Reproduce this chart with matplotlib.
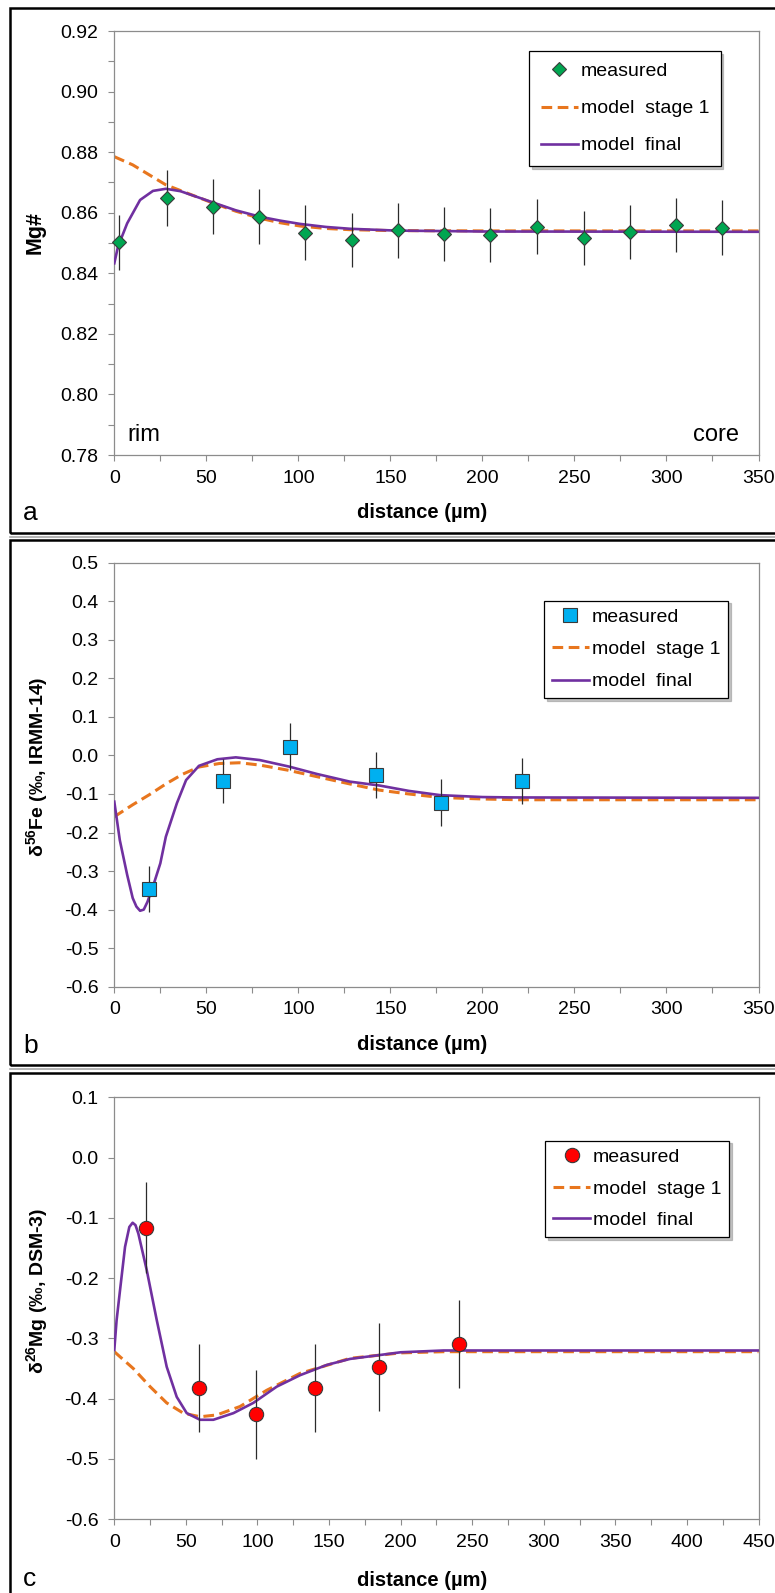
import matplotlib
matplotlib.use("Agg")
import matplotlib.pyplot as plt
from matplotlib.patches import Rectangle
from matplotlib.lines import Line2D
from matplotlib.ticker import MultipleLocator, FormatStrFormatter

plt.rcParams['font.family'] = ['Liberation Sans', 'DejaVu Sans']
plt.rcParams['mathtext.fontset'] = 'custom'
plt.rcParams['mathtext.rm'] = 'Liberation Sans'
plt.rcParams['mathtext.bf'] = 'Liberation Sans:bold'
plt.rcParams['axes.unicode_minus'] = False

# ---- panel a: Mg# ----
mg_dist = [2.6, 28.4, 53.4, 78.7, 103.5, 129.2, 154, 179, 204, 229.4, 255, 280, 305, 330]
mg_val = [0.8502, 0.8649, 0.8620, 0.8587, 0.8534, 0.8510, 0.8542, 0.8530, 0.8527,
          0.8554, 0.8516, 0.8537, 0.8560, 0.8551]
mg_err = [0.009, 0.0092, 0.009, 0.009, 0.009, 0.009, 0.009, 0.009, 0.009,
          0.009, 0.009, 0.009, 0.009, 0.009]
mg_s1_x = [0, 10, 19, 28, 39, 54, 66, 79, 90, 101, 115, 128, 150, 200, 350]
mg_s1_y = [0.8785, 0.8758, 0.8725, 0.8692, 0.8666, 0.8631, 0.8605, 0.8582, 0.8567,
           0.8556, 0.8548, 0.8544, 0.8541, 0.8540, 0.8540]
mg_fin_x = [0, 2, 7, 14, 21, 28, 36, 45, 54, 66, 79, 90, 101, 115, 128, 153, 200, 350]
mg_fin_y = [0.8433, 0.8488, 0.8565, 0.8642, 0.8672, 0.8679, 0.8671, 0.8652, 0.8633,
            0.8608, 0.8587, 0.8574, 0.8563, 0.8553, 0.8547, 0.8541, 0.8538, 0.8537]

# ---- panel b: d56Fe ----
fe_dist = [18.9, 58.9, 95.3, 142.0, 177.4, 221.4]
fe_val = [-0.347, -0.066, 0.023, -0.051, -0.123, -0.066]
fe_err = [0.060, 0.058, 0.062, 0.060, 0.061, 0.060]
fe_s1_x = [0, 10, 19, 28, 37, 46, 57, 68, 79, 94, 110, 128, 144, 160, 177, 200, 220, 350]
fe_s1_y = [-0.159, -0.128, -0.102, -0.074, -0.049, -0.030, -0.021, -0.019, -0.025,
           -0.038, -0.055, -0.074, -0.090, -0.100, -0.109, -0.113, -0.115, -0.115]
fe_fin_x = [0, 3, 7, 10, 12, 14, 16, 18, 21, 25, 28, 34, 39, 46, 56, 66, 79, 95, 110,
            128, 144, 160, 177, 200, 217, 350]
fe_fin_y = [-0.120, -0.220, -0.310, -0.370, -0.392, -0.403, -0.400, -0.380, -0.340,
            -0.280, -0.211, -0.124, -0.064, -0.027, -0.010, -0.005, -0.012, -0.029,
            -0.048, -0.068, -0.078, -0.092, -0.103, -0.108, -0.109, -0.110]

# ---- panel c: d26Mg ----
mgi_dist = [22, 59.5, 99, 140.5, 185, 241]
mgi_val = [-0.116, -0.382, -0.426, -0.383, -0.348, -0.310]
mgi_err = [0.075, 0.073, 0.074, 0.073, 0.073, 0.073]
mgi_s1_x = [0, 13.3, 25, 36.6, 48.2, 59.9, 71.6, 87.8, 106.5, 129.8, 164.7, 200, 230, 450]
mgi_s1_y = [-0.322, -0.350, -0.380, -0.407, -0.424, -0.430, -0.427, -0.413, -0.386,
            -0.358, -0.333, -0.324, -0.322, -0.322]
mgi_fin_x = [0, 1.6, 4.0, 7.5, 10.5, 12.8, 14.8, 16.8, 22.6, 29.6, 36.6, 43.6, 50.6,
             59.9, 69.2, 83.2, 97.1, 113.5, 129.8, 148.4, 164.7, 200, 230, 450]
mgi_fin_y = [-0.319, -0.270, -0.220, -0.148, -0.115, -0.108, -0.112, -0.126, -0.186,
             -0.269, -0.347, -0.397, -0.424, -0.435, -0.435, -0.424, -0.407, -0.380,
             -0.361, -0.344, -0.334, -0.323, -0.320, -0.320]

W, H = 775, 1593
fig = plt.figure(figsize=(W / 100, H / 100), dpi=100)


def fx(px):
    return px / W


def fy(py):
    return 1 - py / H


ORANGE = '#E8761E'
PURPLE = '#7030A0'
GREY = '#8C8C8C'


def make_panel(top, bottom, xmax, ylim, ystep, yminor, yfmt):
    ax = fig.add_axes([fx(114.3), fy(bottom), (758.5 - 114.3) / W, (bottom - top) / H])
    ax.set_xlim(0, xmax)
    ax.set_ylim(*ylim)
    ax.xaxis.set_major_locator(MultipleLocator(50))
    ax.xaxis.set_minor_locator(MultipleLocator(25))
    ax.yaxis.set_major_locator(MultipleLocator(ystep))
    if yminor:
        ax.yaxis.set_minor_locator(MultipleLocator(yminor))
    ax.yaxis.set_major_formatter(FormatStrFormatter(yfmt))
    for s in ax.spines.values():
        s.set_color(GREY)
        s.set_linewidth(0.9)
    ax.tick_params(which='both', direction='out', color=GREY, width=0.8,
                   labelsize=14, labelcolor='black')
    ax.tick_params(which='major', length=4.5)
    ax.tick_params(which='minor', length=4)
    ax.tick_params(axis='y', pad=7)
    ax.tick_params(axis='x', pad=6)
    return ax


def draw(ax, x, y, err, s1x, s1y, fx_, fy_, marker, ms, color):
    l1, = ax.plot(s1x, s1y, color=ORANGE, lw=2.2, ls=(0, (3.5, 1.8)), zorder=2,
                  dash_joinstyle='round')
    l2, = ax.plot(fx_, fy_, color=PURPLE, lw=1.9, zorder=3, solid_joinstyle='round')
    ax.errorbar(x, y, yerr=err, fmt='none', ecolor='#2b2b2b', elinewidth=0.9,
                capsize=0, zorder=4)
    m, = ax.plot(x, y, ls='none', marker=marker, ms=ms, mfc=color, mec='#3a3a3a',
                 mew=0.8, zorder=5, clip_on=False)
    return [m, l1, l2]


def add_legend(ax, handles, left, top, bp, ls):
    leg = ax.legend(handles, ['measured', 'model  stage 1', 'model  final'],
                    loc='upper left', bbox_to_anchor=(fx(left), fy(top)),
                    bbox_transform=fig.transFigure, borderaxespad=0, fontsize=14,
                    fancybox=False, framealpha=1, shadow={'color': '#9a9a9a', 'alpha': 0.6},
                    borderpad=bp, labelspacing=ls, handlelength=1.9, handletextpad=0.15)
    leg.get_frame().set_edgecolor('black')
    leg.get_frame().set_linewidth(0.9)


# panel a
ax_a = make_panel(31, 455, 350, (0.78, 0.92), 0.02, 0.01, '%.2f')
h = draw(ax_a, mg_dist, mg_val, mg_err, mg_s1_x, mg_s1_y, mg_fin_x, mg_fin_y,
         'D', 7.5, '#00A651')
add_legend(ax_a, h, 529, 51, 0.6, 1.0)
fig.text(fx(127), fy(441), 'rim', fontsize=17, ha='left', va='baseline')
fig.text(fx(739), fy(441), 'core', fontsize=17, ha='right', va='baseline')

# panel b
ax_b = make_panel(562.7, 986.7, 350, (-0.6, 0.5), 0.1, None, '%.1f')
h = draw(ax_b, fe_dist, fe_val, fe_err, fe_s1_x, fe_s1_y, fe_fin_x, fe_fin_y,
         's', 10.5, '#00B0F0')
add_legend(ax_b, h, 544, 600.6, 0.4, 0.75)

# panel c
ax_c = make_panel(1097.4, 1519.2, 450, (-0.6, 0.1), 0.1, None, '%.1f')
h = draw(ax_c, mgi_dist, mgi_val, mgi_err, mgi_s1_x, mgi_s1_y, mgi_fin_x, mgi_fin_y,
         'o', 10.3, '#FF0000')
add_legend(ax_c, h, 545.3, 1140.6, 0.4, 0.72)

# axis labels and panel letters
ylabels = [('Mg#', 35, 233, 15.5),
           ('δ$^{\\mathbf{56}}$Fe (‰, IRMM-14)', 38, 767, 14),
           ('δ$^{\\mathbf{26}}$Mg (‰, DSM-3)', 38, 1291, 14)]
for txt, x, y, fs in ylabels:
    fig.text(fx(x), fy(y), txt, rotation=90, ha='center', va='center',
             fontsize=fs, fontweight='bold')

for y in [513, 1045, 1580]:
    fig.text(fx(422), fy(y), 'distance (µm)', ha='center', va='center',
             fontsize=14.5, fontweight='bold')

for letter, y in [('a', 520), ('b', 1053), ('c', 1586)]:
    fig.text(fx(23), fy(y), letter, ha='left', va='baseline', fontsize=19)

# panel frames
for top, bottom in [(7.7, 532.7), (540, 1065.3), (1073.3, 1620)]:
    fig.add_artist(Line2D([fx(9.5), fx(800)], [fy(bottom + 4)] * 2, color='#a8a8a8',
                          lw=1.2, transform=fig.transFigure))
    fig.add_artist(Rectangle((fx(9.5), fy(bottom)), (800 - 9.5) / W, (bottom - top) / H,
                             fill=False, lw=1.8, ec='black', transform=fig.transFigure))

fig.savefig('out.png', dpi=100)
